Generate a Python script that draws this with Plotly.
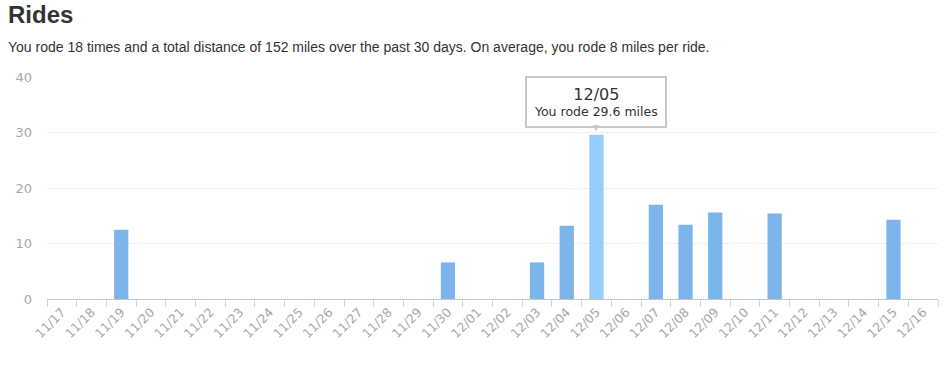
import plotly.graph_objects as go

days = ["11/17", "11/18", "11/19", "11/20", "11/21", "11/22", "11/23", "11/24", "11/25", "11/26",
        "11/27", "11/28", "11/29", "11/30", "12/01", "12/02", "12/03", "12/04", "12/05", "12/06",
        "12/07", "12/08", "12/09", "12/10", "12/11", "12/12", "12/13", "12/14", "12/15", "12/16"]
miles = [0, 0, 12.5, 0, 0, 0, 0, 0, 0, 0,
         0, 0, 0, 6.6, 0, 0, 6.6, 13.2, 29.6, 0,
         17.0, 13.4, 15.6, 0, 15.4, 0, 0, 0, 14.3, 0]
highlight_day = "12/05"

base_color = "#7cb5ec"
hover_color = "#97cdfd"
colors = [hover_color if d == highlight_day else base_color for d in days]
hl_value = miles[days.index(highlight_day)]

fig = go.Figure(go.Bar(x=days, y=miles, marker=dict(color=colors, line=dict(width=0)),
                       width=0.48, hoverinfo="skip"))

fig.update_layout(
    width=950, height=367,
    margin=dict(l=47, r=12, t=77, b=68, autoexpand=False),
    plot_bgcolor="white", paper_bgcolor="white",
    showlegend=False,
    font=dict(family="Liberation Sans, Arial, sans-serif"),
    bargap=0.5,
)
fig.update_yaxes(range=[0, 40], dtick=10, showgrid=True, gridcolor="#efefef", gridwidth=1,
                 zeroline=False, showline=False, automargin=False,
                 tickfont=dict(size=13, color="#a8a8a8", family="DejaVu Sans, sans-serif"),
                 ticklabelstandoff=14)
fig.update_xaxes(type="category", showline=True, linecolor="#c0c8d4", linewidth=1, automargin=False,
                 ticks="outside", tickcolor="#d0d4dc", ticklen=7, tickson="boundaries",
                 tickangle=-45, tickfont=dict(size=12.5, color="#a8a8a8", family="DejaVu Sans, sans-serif"),
                 showgrid=False)

# Title and subtitle
fig.add_annotation(text="<b>Rides</b>", xref="paper", yref="paper", x=0, y=1, xshift=-41, yshift=78,
                   xanchor="left", yanchor="top", showarrow=False,
                   font=dict(size=24, color="#333333", family="Liberation Sans, Arial, sans-serif"))
fig.add_annotation(text="You rode 18 times and a total distance of 152 miles over the past 30 days. On average, you rode 8 miles per ride.",
                   xref="paper", yref="paper", x=0, y=1, xshift=-41, yshift=40,
                   xanchor="left", yanchor="top", showarrow=False,
                   font=dict(size=14, color="#333333", family="Liberation Sans, Arial, sans-serif"))

# Tooltip
fig.add_annotation(x=highlight_day, y=hl_value, xref="x", yref="y", yanchor="bottom", yshift=7,
                   text="<span style='font-size:16px'>" + highlight_day + "</span><br>You rode " + f"{hl_value}" + " miles",
                   showarrow=False, bgcolor="white", bordercolor="#c8c8c8", borderwidth=2, borderpad=7,
                   font=dict(size=12.5, color="#333333", family="DejaVu Sans, sans-serif"), align="center")
fig.add_annotation(x=highlight_day, y=hl_value, xref="x", yref="y", yanchor="bottom", yshift=0,
                   text="▼", showarrow=False, font=dict(size=10, color="#c8c8c8"))

fig.write_html("out.html", config={"displayModeBar": False},
               post_script="document.body.style.margin='0';document.body.style.padding='0';")
